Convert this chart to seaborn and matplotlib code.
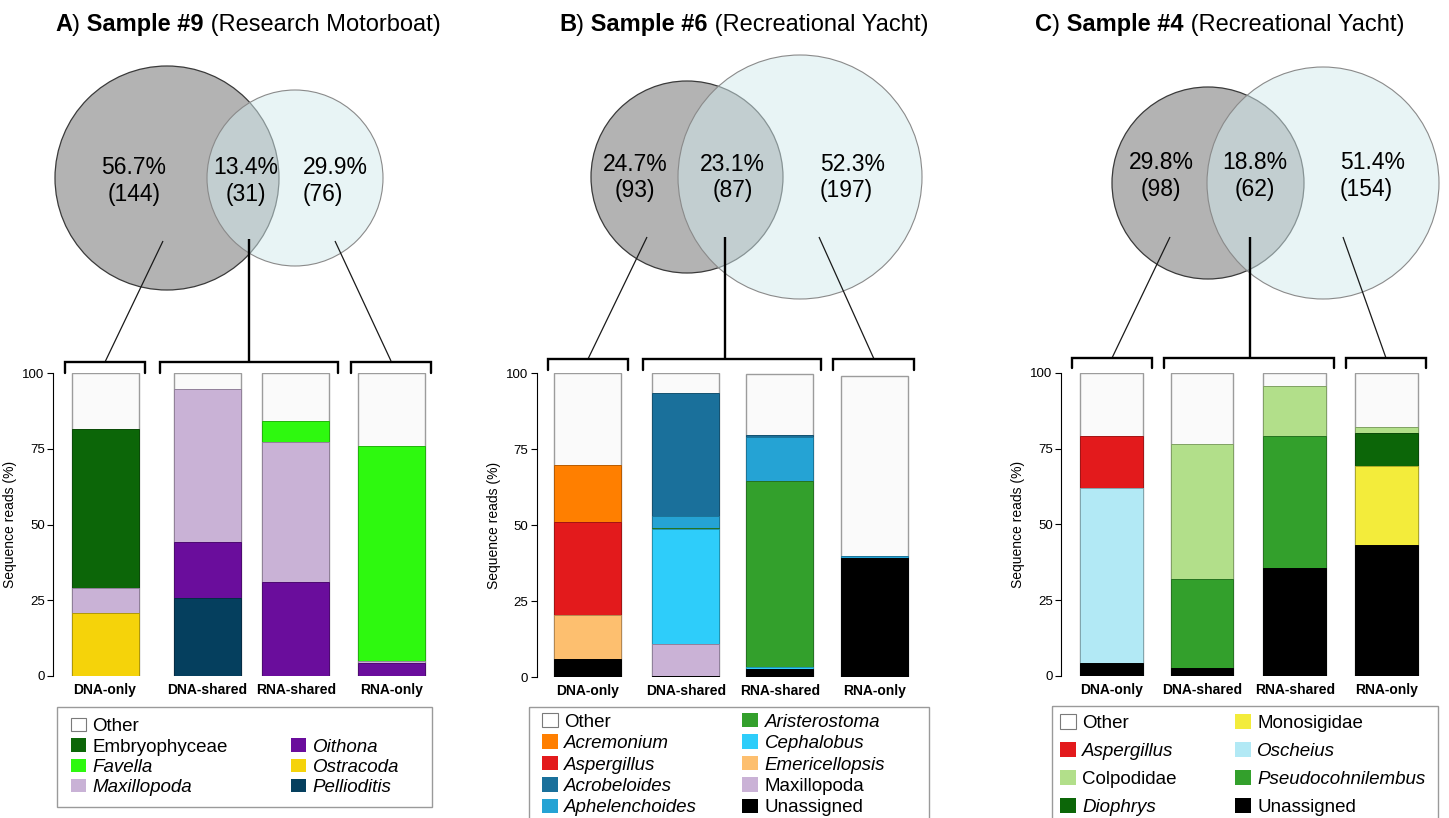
import numpy as np
import pandas as pd
import matplotlib
matplotlib.use("Agg")
import matplotlib.pyplot as plt
from matplotlib.patches import Circle, Patch, Rectangle
import seaborn as sns

# ---------------- data ----------------
fractions = ["DNA-only", "DNA-shared", "RNA-shared", "RNA-only"]

# A) Sample #9 (Research Motorboat)
title_a = ["A", "Sample #9", "(Research Motorboat)"]
venn_pct_a = [56.7, 13.4, 29.9]
venn_n_a = [144, 31, 76]
taxa_a = ["Other", "Embryophyceae", "Favella", "Maxillopoda", "Oithona", "Ostracoda", "Pellioditis"]
italic_a = [False, False, True, True, True, True, True]
colors_a = ["#fafafa", "#0c6608", "#2ef90f", "#c9b2d6", "#6a0d9c", "#f5d30a", "#053f5e"]
reads_a = [
    [18.3, 5.3, 15.9, 24.0],
    [52.7, 0, 0, 0],
    [0, 0, 6.7, 70.9],
    [8.1, 50.3, 46.2, 0.9],
    [0, 18.7, 31.2, 4.2],
    [20.9, 0, 0, 0],
    [0, 25.7, 0, 0],
]

# B) Sample #6 (Recreational Yacht)
title_b = ["B", "Sample #6", "(Recreational Yacht)"]
venn_pct_b = [24.7, 23.1, 52.3]
venn_n_b = [93, 87, 197]
taxa_b = ["Other", "Acremonium", "Aspergillus", "Acrobeloides", "Aphelenchoides",
          "Aristerostoma", "Cephalobus", "Emericellopsis", "Maxillopoda", "Unassigned"]
italic_b = [False, True, True, True, True, True, True, True, False, False]
colors_b = ["#fafafa", "#ff7f00", "#e31a1c", "#1a709b", "#25a3d4",
            "#33a02c", "#2ecdfa", "#fdbf6f", "#cab2d6", "#000000"]
reads_b = [
    [30.2, 6.4, 20.0, 59.3],
    [18.7, 0, 0, 0],
    [30.7, 0, 0, 0],
    [0, 40.5, 0.8, 0],
    [0, 3.9, 14.4, 0.8],
    [0, 0.5, 61.0, 0],
    [0, 37.7, 0.9, 0],
    [14.4, 0, 0, 0],
    [0, 10.7, 0, 0],
    [6.0, 0.3, 2.6, 39.1],
]

# C) Sample #4 (Recreational Yacht)
title_c = ["C", "Sample #4", "(Recreational Yacht)"]
venn_pct_c = [29.8, 18.8, 51.4]
venn_n_c = [98, 62, 154]
taxa_c = ["Other", "Aspergillus", "Colpodidae", "Diophrys", "Monosigidae",
          "Oscheius", "Pseudocohnilembus", "Unassigned"]
italic_c = [False, True, False, True, False, True, True, False]
colors_c = ["#fafafa", "#e31a1c", "#b2df8a", "#0c6608", "#f3ec3b",
            "#b2e9f5", "#33a02c", "#000000"]
reads_c = [
    [20.8, 23.6, 4.3, 17.9],
    [17.1, 0, 0, 0],
    [0, 44.5, 16.5, 2.0],
    [0, 0, 0, 11.0],
    [0, 0, 0, 25.9],
    [57.7, 0, 0, 0],
    [0, 29.2, 43.6, 0],
    [4.4, 2.7, 35.6, 43.2],
]

# ---------------- layout (pixels) ----------------
W, H = 1449, 818
sns.set_theme(style="white")
plt.rcParams["font.family"] = ["Liberation Sans", "DejaVu Sans"]
plt.rcParams["text.color"] = "black"

fig = plt.figure(figsize=(W / 100, H / 100), dpi=100)

panels = [
    dict(title=title_a, pct=venn_pct_a, n=venn_n_a, taxa=taxa_a, italic=italic_a,
         colors=colors_a, reads=reads_a, title_x=55,
         axis=(53, 373.3, 676, 430), centers=[105, 207.2, 295.8, 391.2], bar_w=67,
         circles=[(167, 178, 112), (295, 178, 88)],
         text_xy=[(134, 181, "center"), (245.5, 181, "center"), (303, 181, "left")],
         links=[(163, 241, 105, 362), (249, 239, 249, 362), (335, 241, 391, 361)],
         brackets=(362, 373, [(65, 145), (160, 338), (351, 431)]),
         leg_anchor=(71, 718), leg_frame=(57, 707, 375, 100), blank_at=4,
         leg_kw=dict(labelspacing=0.16, columnspacing=3.4, handlelength=0.78, handleheight=0.73)),
    dict(title=title_b, pct=venn_pct_b, n=venn_n_b, taxa=taxa_b, italic=italic_b,
         colors=colors_b, reads=reads_b, title_x=559,
         axis=(536.7, 373.3, 677.3, 912), centers=[588, 685.8, 779.7, 874.5], bar_w=67,
         circles=[(687, 177, 96), (800, 177, 122)],
         text_xy=[(635, 177.5, "center"), (732.5, 177.5, "center"), (820, 177.5, "left")],
         links=[(647, 237, 588, 359), (725, 237, 725, 359), (819, 237, 874, 359)],
         brackets=(359, 370, [(548, 628), (643, 821), (833, 914)]),
         leg_anchor=(542, 713), leg_frame=(529, 707, 400, 130), blank_at=None,
         leg_kw=dict(labelspacing=0.2, columnspacing=2.4, handlelength=0.84, handleheight=0.8)),
    dict(title=title_c, pct=venn_pct_c, n=venn_n_c, taxa=taxa_c, italic=italic_c,
         colors=colors_c, reads=reads_c, title_x=1035,
         axis=(1061, 372.7, 676, 1422), centers=[1111.3, 1202, 1294.7, 1386.3], bar_w=62.7,
         circles=[(1208, 183, 96), (1323, 183, 116)],
         text_xy=[(1161, 176, "center"), (1254.5, 176, "center"), (1340, 176, "left")],
         links=[(1170, 237, 1112, 358), (1250, 237, 1250, 358), (1343, 237, 1386, 358)],
         brackets=(358, 368, [(1072, 1152), (1164, 1334), (1346, 1426)]),
         leg_anchor=(1060, 714), leg_frame=(1052, 706, 386, 130), blank_at=None,
         leg_kw=dict(labelspacing=0.54, columnspacing=3.1, handlelength=0.84, handleheight=0.84)),
]


def stacked_bars(ax, p):
    vals = np.array(p["reads"], dtype=float)
    # top of each segment: the stack starts with the last taxon at the bottom
    tops = np.cumsum(vals[::-1], axis=0)[::-1]
    rows = []
    for i, t in enumerate(p["taxa"]):
        for j in range(len(fractions)):
            if vals[i, j] > 0:
                rows.append({"x": p["centers"][j], "top": tops[i, j], "taxon": t})
    df = pd.DataFrame(rows)
    width = p["bar_w"] / np.min(np.diff(p["centers"]))
    sns.barplot(data=df, x="x", y="top", hue="taxon", hue_order=p["taxa"],
                palette=dict(zip(p["taxa"], p["colors"])), native_scale=True,
                width=width, dodge=False, saturation=1, errorbar=None,
                legend=False, ax=ax)
    for bar in ax.patches:
        fc = np.array(bar.get_facecolor()[:3])
        if fc.sum() > 2.9:
            bar.set_edgecolor("#9c9c9c")
            bar.set_linewidth(1.0)
        else:
            bar.set_edgecolor(fc * 0.72)
            bar.set_linewidth(0.7)


for p in panels:
    sx, ytop, ybot, rx = p["axis"]
    ax = fig.add_axes([sx / W, 1 - ybot / H, (rx - sx) / W, (ybot - ytop) / H])
    stacked_bars(ax, p)
    ax.set_xlim(sx, rx)
    ax.set_ylim(0, 100)
    ax.set_yticks([0, 25, 50, 75, 100])
    ax.set_xticks(p["centers"])
    ax.set_xticklabels(fractions, fontweight="bold", fontsize=10, color="black")
    ax.tick_params(axis="x", length=0, pad=5)
    ax.tick_params(axis="y", left=True, length=4, width=0.8, color="black",
                   labelsize=9.5, pad=2, labelcolor="black")
    ax.set_xlabel("")
    ax.set_ylabel("Sequence reads (%)", fontsize=10, labelpad=4, color="black")
    sns.despine(ax=ax, bottom=True)
    ax.spines["left"].set_color("black")
    ax.spines["left"].set_linewidth(0.8)
    ax.set_facecolor("none")

# overlay in pixel coordinates: titles, venns, connectors, legend frames
ov = fig.add_axes([0, 0, 1, 1])
ov.set_xlim(0, W)
ov.set_ylim(H, 0)
ov.axis("off")
ov.patch.set_alpha(0)

for p in panels:
    # title with mixed weights
    letter, sample, boat = p["title"]
    parts = [(letter, "bold"), (")", "normal"), (" " + sample, "bold"), (" " + boat, "normal")]
    t = ov.text(p["title_x"], 31, parts[0][0], fontsize=17, fontweight="bold",
                ha="left", va="baseline", color="black")
    for s, wgt in parts[1:]:
        t = ov.annotate(s, xy=(1, 0), xycoords=t, fontsize=17, fontweight=wgt,
                        ha="left", va="bottom", color="black")

    (lx, ly, lr), (rxc, ryc, rr) = p["circles"]
    ov.add_patch(Circle((lx, ly), lr, facecolor="#b3b3b3", edgecolor="#3a3a3a",
                        linewidth=0.9, zorder=1))
    ov.add_patch(Circle((rxc, ryc), rr, facecolor=(210 / 255, 234 / 255, 237 / 255, 0.51),
                        edgecolor="#8a8a8a", linewidth=0.8, zorder=2))
    for (tx, ty, al), pc, nn in zip(p["text_xy"], p["pct"], p["n"]):
        ha = "left" if al == "left" else "center"
        ov.text(tx, ty, f"{pc:.1f}%\n({nn})", fontsize=16.5, ha=ha, va="center",
                multialignment=ha, zorder=3, color="black")

    for k, (x0, y0, x1, y1) in enumerate(p["links"]):
        ov.plot([x0, x1], [y0, y1], color="black" if k == 1 else "#1a1a1a",
                linewidth=1.7 if k == 1 else 0.9, zorder=4, solid_capstyle="butt")

    btop, bbot, spans = p["brackets"]
    for a, b in spans:
        ov.plot([a, a, b, b], [bbot, btop, btop, bbot], color="black", linewidth=1.7,
                zorder=4, solid_joinstyle="miter")

    fx, fy, fw, fh = p["leg_frame"]
    ov.add_patch(Rectangle((fx, fy), fw, fh, fill=False, edgecolor="#9a9a9a", linewidth=1.0))

    # legend
    handles, labels, ital = [], [], []
    for tx, c, it in zip(p["taxa"], p["colors"], p["italic"]):
        if tx == "Other":
            handles.append(Patch(facecolor="white", edgecolor="#7a7a7a", linewidth=0.8))
        else:
            handles.append(Patch(facecolor=c, edgecolor="none"))
        labels.append(tx)
        ital.append(it)
    if p["blank_at"] is not None:
        handles.insert(p["blank_at"], Patch(facecolor="none", edgecolor="none"))
        labels.insert(p["blank_at"], "")
        ital.insert(p["blank_at"], False)
    ax_x, ax_y = p["leg_anchor"]
    leg = fig.legend(handles, labels, loc="upper left",
                     bbox_to_anchor=(ax_x / W, 1 - ax_y / H), ncol=2, frameon=False,
                     borderpad=0, borderaxespad=0, fontsize=13.5, handletextpad=0.35,
                     **p["leg_kw"])
    for txt, it in zip(leg.get_texts(), ital):
        txt.set_color("black")
        if it:
            txt.set_style("italic")

fig.savefig("out.png", dpi=100, facecolor="white")
